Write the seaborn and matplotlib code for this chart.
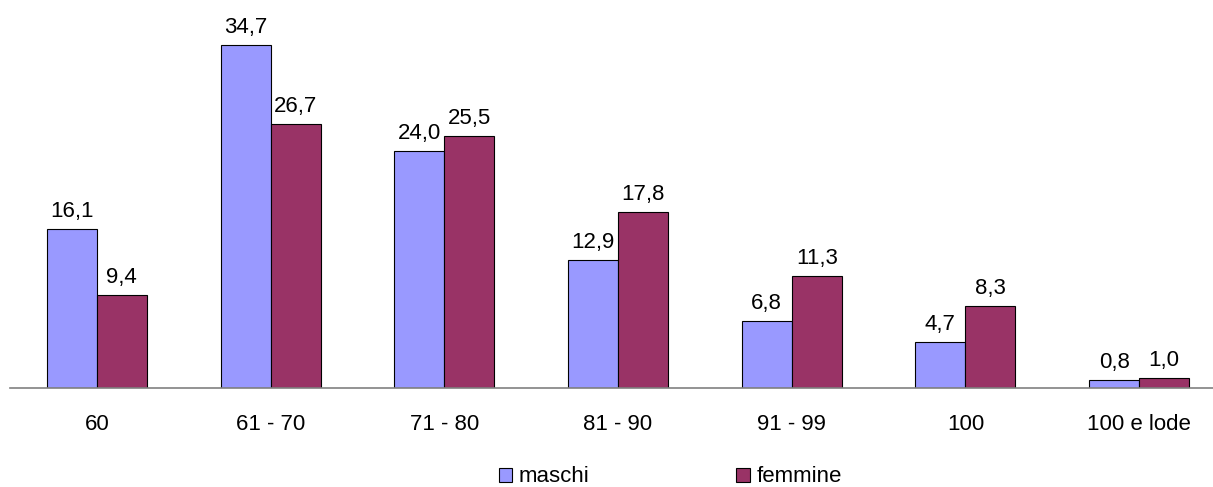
import matplotlib
matplotlib.use("Agg")
import matplotlib.pyplot as plt
import seaborn as sns
import pandas as pd

categories = ["60", "61 - 70", "71 - 80", "81 - 90", "91 - 99", "100", "100 e lode"]
maschi = [16.1, 34.7, 24.0, 12.9, 6.8, 4.7, 0.8]
femmine = [9.4, 26.7, 25.5, 17.8, 11.3, 8.3, 1.0]
series = ["maschi", "femmine"]
colors = ["#9999FF", "#993366"]

df = pd.DataFrame({
    "cat": categories * 2,
    "val": maschi + femmine,
    "serie": [series[0]] * len(categories) + [series[1]] * len(categories),
})

sns.set_style("white")
plt.rcParams["font.family"] = ["Liberation Sans", "DejaVu Sans"]
plt.rcParams["text.color"] = "black"
plt.rcParams["xtick.color"] = "black"
plt.rcParams["axes.labelcolor"] = "black"

W, H = 1213, 487
fig = plt.figure(figsize=(W / 100, H / 100), dpi=100)
# axes: left 10px, width ~1216px, baseline at y=388, top at y=32
ax = fig.add_axes([10 / W, (H - 388) / H, 1216 / W, (388 - 32) / H])

sns.barplot(data=df, x="cat", y="val", hue="serie", palette=colors,
            width=0.576, edgecolor="black", linewidth=0.8, ax=ax,
            saturation=1, legend=True)

ax.set_ylim(0, 36)
ax.set_xlim(-0.5, len(categories) - 0.5)
ax.set_xlabel("")
ax.set_ylabel("")
ax.set_yticks([])
for s in ["top", "right", "left"]:
    ax.spines[s].set_visible(False)
ax.spines["bottom"].set_color("#808080")
ax.spines["bottom"].set_linewidth(1.2)
ax.tick_params(axis="x", length=0, pad=19, labelsize=16, labelcolor="black")

for cont in ax.containers:
    ax.bar_label(cont, labels=[f"{v:.1f}".replace(".", ",") for v in cont.datavalues],
                 padding=5, fontsize=16, color="black")

leg = ax.legend(loc="center", bbox_to_anchor=(0.543, -0.25),
                ncol=2, frameon=False, fontsize=16, handlelength=0.6,
                handleheight=0.6, handletextpad=0.3, columnspacing=6.6)
for h in leg.legend_handles:
    h.set_edgecolor("black")
    h.set_linewidth(0.8)
for t in leg.get_texts():
    t.set_color("black")

fig.savefig("out.png", dpi=100)
